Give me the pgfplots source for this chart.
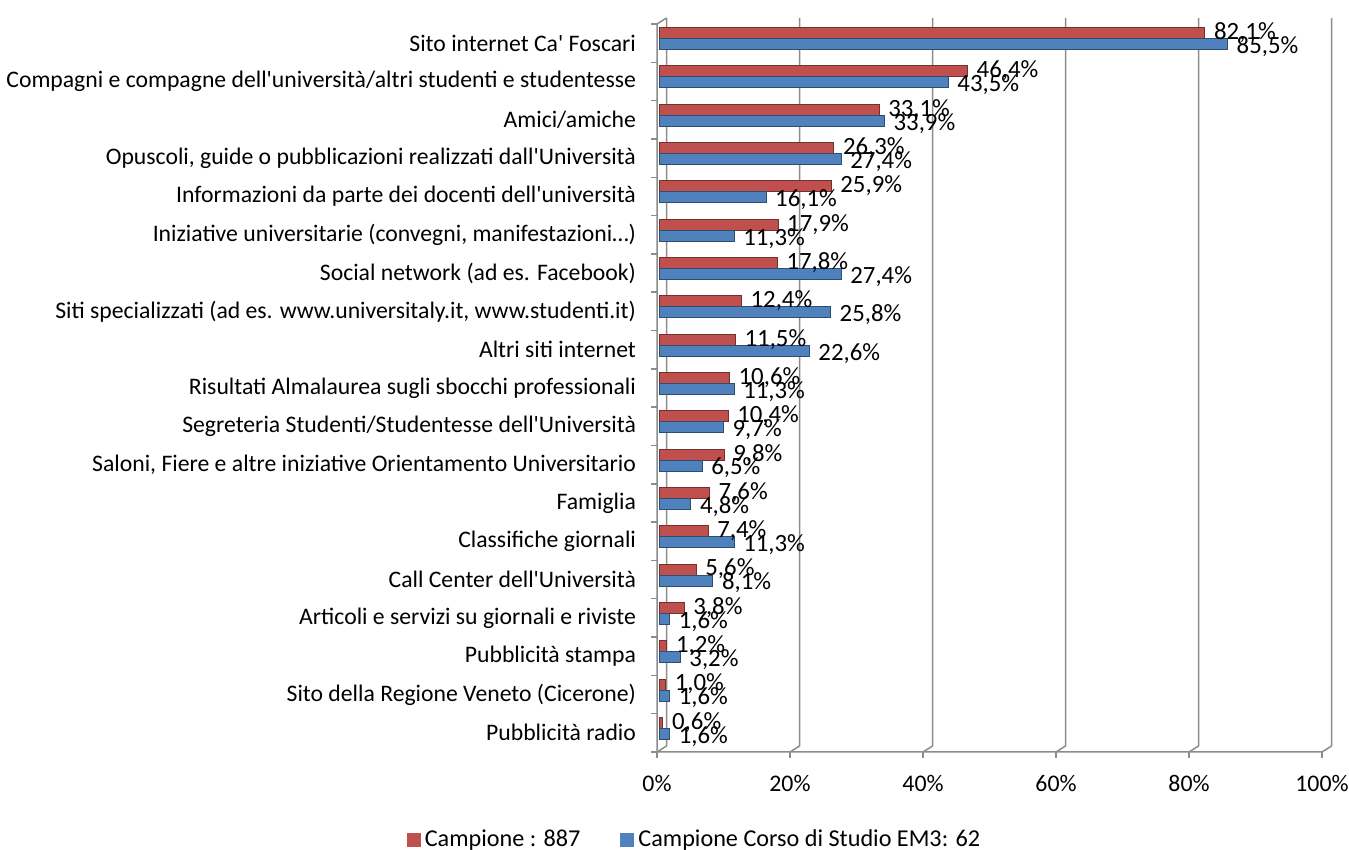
\documentclass[border=0pt]{standalone}
\usepackage{fontspec}
\setmainfont{Carlito}
\usepackage{pgfplots}
\usepackage{pgfplotstable}
\pgfplotsset{compat=1.18}
\definecolor{cred}{HTML}{C0504D}
\definecolor{cblue}{HTML}{4F81BD}
\definecolor{gridgray}{HTML}{8C8C8C}
\newcommand{\ap}{\textquotesingle}

\pgfplotstableread{
y red blue
19 82.1 85.5
18 46.4 43.5
17 33.1 33.9
16 26.3 27.4
15 25.9 16.1
14 17.9 11.3
13 17.8 27.4
12 12.4 25.8
11 11.5 22.6
10 10.6 11.3
9 10.4 9.7
8 9.8 6.5
7 7.6 4.8
6 7.4 11.3
5 5.6 8.1
4 3.8 1.6
3 1.2 3.2
2 1.0 1.6
1 0.6 1.6
}\datatable

\begin{document}
\begin{tikzpicture}[font=\fontsize{11.85}{14}\selectfont]
\useasboundingbox (0,0) rectangle (674.5pt,425pt);
\begin{axis}[
  at={(329.5pt,49pt)}, anchor=south west,
  scale only axis, width=332.5pt, height=364pt,
  xmin=0, xmax=100, ymin=0.5, ymax=19.5,
  xbar, bar width=5.5pt,
  /pgf/number format/assume math mode=true,
  axis x line*=bottom, axis y line*=left,
  axis line style={draw=none},
  tick style={draw=none},
  xtick={0,20,40,60,80,100},
  xticklabel={\pgfmathprintnumber{\tick}\%},
  xticklabel style={xshift=-1pt, yshift=-4pt, font=\fontsize{11.9}{14}\selectfont},
  tick align=outside, major tick length=4pt,
  ytick={1,...,19},
  yticklabel style={xshift=-4pt},
  yticklabels={
    Pubblicità radio,
    Sito della Regione Veneto (Cicerone),
    Pubblicità stampa,
    Articoli e servizi su giornali e riviste,
    Call Center dell\ap Università,
    Classifiche giornali,
    Famiglia,
    {Saloni, Fiere e altre iniziative Orientamento Universitario},
    Segreteria Studenti/Studentesse dell\ap Università,
    Risultati Almalaurea sugli sbocchi professionali,
    Altri siti internet,
    {Siti specializzati (ad es. www.universitaly.it, www.studenti.it)},
    Social network (ad es. Facebook),
    {Iniziative universitarie (convegni, manifestazioni…)},
    Informazioni da parte dei docenti dell\ap università,
    {Opuscoli, guide o pubblicazioni realizzati dall\ap Università},
    Amici/amiche,
    Compagni e compagne dell\ap università/altri studenti e studentesse,
    Sito internet Ca\ap{} Foscari},
  legend columns=2,
  legend style={at={(0.0549,-0.1209)}, anchor=center, draw=none, fill=none,
    font=\fontsize{12.1}{14}\selectfont,
    /tikz/every even column/.append style={column sep=18pt}},
  legend image code/.code={\fill[#1] (0pt,-3.5pt) rectangle (7pt,3.5pt);},
  clip=false,
]
% back wall grid lines with 3D floor kinks
\pgfplotsinvokeforeach{0,20,40,60,80,100}{
  \draw[gridgray, line width=0.75pt] ([xshift=-1pt]axis cs:#1,0.5) -- ++(4.75pt,3pt) -- ([xshift=3.75pt,yshift=3pt]axis cs:#1,19.5);
  \draw[gridgray, line width=0.75pt] ([xshift=-1pt]axis cs:#1,0.5) -- ++(0pt,-3pt);
}
% front axis lines
\draw[gridgray, line width=0.75pt] ([xshift=3.75pt,yshift=3pt]axis cs:0,19.5) -- ([xshift=-1pt]axis cs:0,19.5) -- ([xshift=-1pt]axis cs:0,0.5) -- ([xshift=-1pt]axis cs:100,0.5);
\pgfplotsinvokeforeach{0.5,1.5,...,19.5}{
  \draw[gridgray, line width=0.75pt] ([xshift=-1pt]axis cs:0,#1) -- ++(-3pt,0pt);
}
\addlegendimage{fill=cred, draw=none}
\addlegendentry{Campione : 887}
\addlegendimage{fill=cblue, draw=none}
\addlegendentry{Campione Corso di Studio EM3: 62}
\addplot[forget plot, fill=cred, draw=cred!60!black, line width=0.5pt, bar shift=5pt,
  nodes near coords={\pgfmathprintnumber[fixed,fixed zerofill,precision=1,use comma]{\pgfplotspointmeta}\%},
  every node near coord/.style={anchor=west, xshift=1pt, yshift=5.25pt, black, font=\fontsize{12.4}{14}\selectfont}]
  table[x=red, y=y] {\datatable};
\addplot[forget plot, fill=cblue, draw=cblue!60!black, line width=0.5pt, bar shift=-0.5pt,
  nodes near coords={\pgfmathprintnumber[fixed,fixed zerofill,precision=1,use comma]{\pgfplotspointmeta}\%},
  every node near coord/.style={anchor=west, xshift=1pt, yshift=-1.75pt, black, font=\fontsize{12.4}{14}\selectfont}]
  table[x=blue, y=y] {\datatable};
\end{axis}
\end{tikzpicture}
\end{document}
